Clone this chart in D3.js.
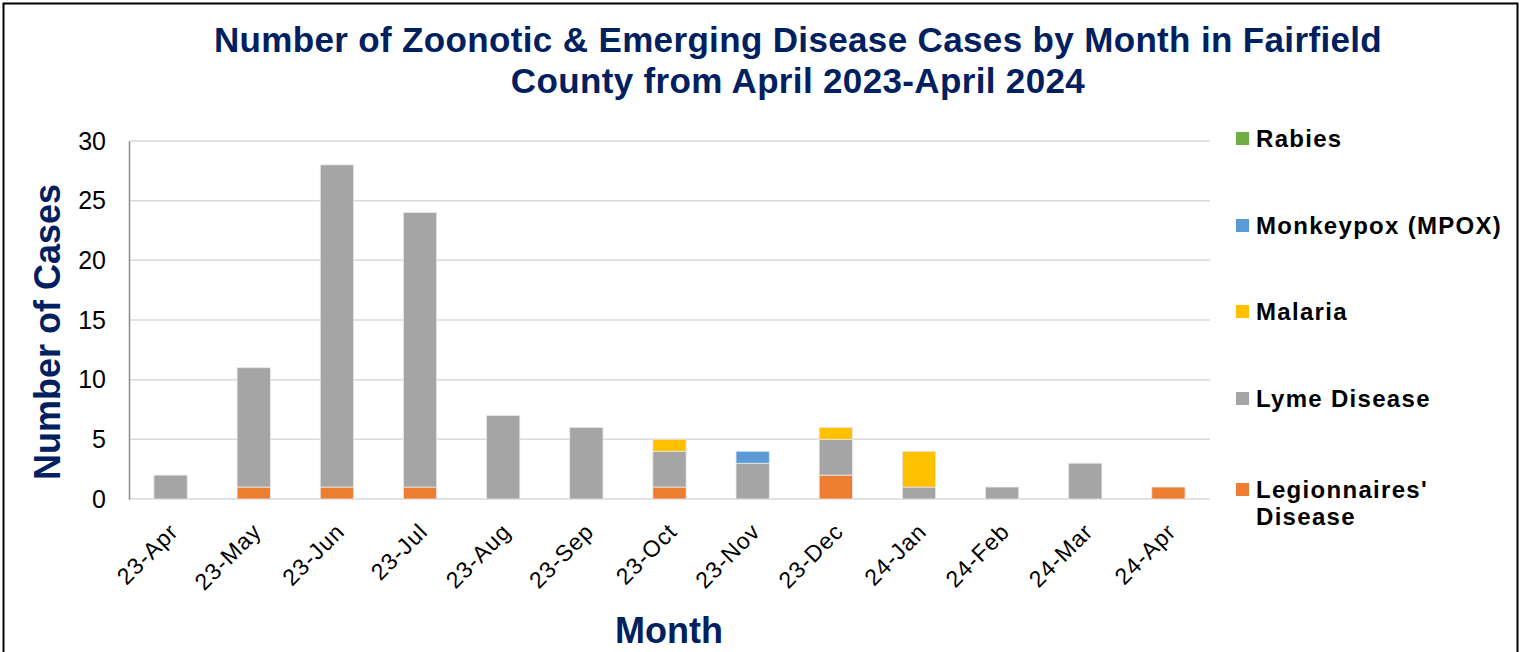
<!DOCTYPE html>
<html><head><meta charset="utf-8">
<script src="https://cdn.jsdelivr.net/npm/d3@7"></script>
<style>body{margin:0;background:#fff;} svg{display:block;}</style>
</head><body>
<svg id="chart" width="1523" height="652"></svg>
<script>
const months = ["23-Apr","23-May","23-Jun","23-Jul","23-Aug","23-Sep","23-Oct","23-Nov","23-Dec","24-Jan","24-Feb","24-Mar","24-Apr"];
const legionnaires = [0,1,1,1,0,0,1,0,2,0,0,0,1];
const lyme = [2,10,27,23,7,6,3,3,3,1,1,3,0];
const malaria = [0,0,0,0,0,0,1,0,1,3,0,0,0];
const mpox = [0,0,0,0,0,0,0,1,0,0,0,0,0];
const rabies = [0,0,0,0,0,0,0,0,0,0,0,0,0];
const seriesNames = ["Legionnaires' Disease","Lyme Disease","Malaria","Monkeypox (MPOX)","Rabies"];
const seriesColors = ["#ED7D31","#A5A5A5","#FFC000","#5B9BD5","#70AD47"];
const yTicks = [0,5,10,15,20,25,30];

const seriesData = [legionnaires, lyme, malaria, mpox, rabies];
const table = months.map((m,i)=>{const o={month:m}; seriesNames.forEach((s,j)=>o[s]=seriesData[j][i]); return o;});
const stacked = d3.stack().keys(seriesNames)(table);

const svg = d3.select("#chart");
const navy = "#002060";
const font = "Liberation Sans, Arial, sans-serif";

svg.append("rect").attr("x",3.5).attr("y",3.5).attr("width",1514).attr("height",660)
  .attr("fill","#fff").attr("stroke","#000").attr("stroke-width",2);

const L=129, R=1210, T=141, B=499;
const x = d3.scaleBand().domain(months).range([L,R]).paddingInner(0.6).paddingOuter(0.3);
const y = d3.scaleLinear().domain([0,30]).range([B,T]);

// gridlines
svg.append("g").selectAll("line").data(yTicks).join("line")
  .attr("x1",L).attr("x2",R).attr("y1",d=>y(d)).attr("y2",d=>y(d))
  .attr("stroke","#D9D9D9").attr("stroke-width",1.5);

// y axis
const ya = svg.append("g").attr("transform",`translate(${L},0)`)
  .call(d3.axisLeft(y).tickValues(yTicks).tickSize(0).tickPadding(23));
ya.select(".domain").attr("stroke","#8C8C8C").attr("stroke-width",1.5);
ya.selectAll("text").attr("font-family",font).attr("font-size",25).attr("fill","#000");

// bars
svg.append("g").selectAll("g").data(stacked).join("g")
  .attr("fill",(d,i)=>seriesColors[i])
  .selectAll("rect").data(d=>d).join("rect")
  .attr("x",d=>x(d.data.month)).attr("width",x.bandwidth())
  .attr("y",d=>y(d[1])).attr("height",d=>y(d[0])-y(d[1]))
  .attr("stroke","#E8E8E8").attr("stroke-width",0.8)
  .attr("display",d=>d[1]-d[0]>0?null:"none");

// x axis
const xa = svg.append("g").attr("transform",`translate(0,${B})`)
  .call(d3.axisBottom(x).tickSize(0));
xa.select(".domain").remove();
xa.selectAll("text").attr("font-family",font).attr("font-size",23).attr("fill","#000")
  .attr("letter-spacing",1).attr("text-anchor","end").attr("dy",0).attr("y",0)
  .attr("transform","translate(9,34) rotate(-45)");

// title
const title = svg.append("text").attr("text-anchor","middle").attr("font-family",font)
  .attr("font-weight","bold").attr("font-size",35).attr("fill",navy).attr("letter-spacing",0.35);
title.append("tspan").attr("x",798).attr("y",52).text("Number of Zoonotic & Emerging Disease Cases by Month in Fairfield");
title.append("tspan").attr("x",798).attr("y",93).text("County from April 2023-April 2024");

// axis titles
svg.append("text").attr("transform","translate(60,332) rotate(-90)").attr("text-anchor","middle")
  .attr("font-family",font).attr("font-weight","bold").attr("font-size",36).attr("fill",navy)
  .text("Number of Cases");
svg.append("text").attr("x",669).attr("y",643).attr("text-anchor","middle")
  .attr("font-family",font).attr("font-weight","bold").attr("font-size",36).attr("fill",navy)
  .text("Month");

// legend (reverse order)
const legendRows = [
  {name:"Rabies", lines:["Rabies"], y:147},
  {name:"Monkeypox (MPOX)", lines:["Monkeypox (MPOX)"], y:234},
  {name:"Malaria", lines:["Malaria"], y:320},
  {name:"Lyme Disease", lines:["Lyme Disease"], y:407},
  {name:"Legionnaires' Disease", lines:["Legionnaires'","Disease"], y:498}
];
const lg = svg.append("g");
legendRows.forEach(r=>{
  const c = seriesColors[seriesNames.indexOf(r.name)];
  lg.append("rect").attr("x",1236).attr("y",r.y-15).attr("width",13).attr("height",13).attr("fill",c);
  const t = lg.append("text").attr("font-family",font).attr("font-weight","bold").attr("font-size",24)
    .attr("letter-spacing",1.3).attr("fill","#000");
  r.lines.forEach((ln,k)=>t.append("tspan").attr("x",1256).attr("y",r.y+k*27).text(ln));
});
</script>
</body></html>
